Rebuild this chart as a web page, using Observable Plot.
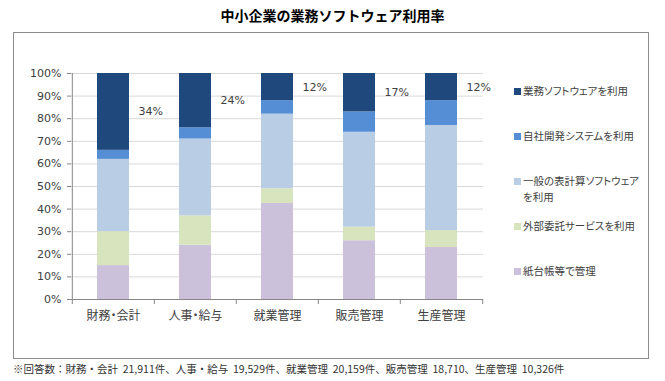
<!DOCTYPE html>
<html><head><meta charset="utf-8">
<script src="https://cdn.jsdelivr.net/npm/d3@7"></script>
<script src="https://cdn.jsdelivr.net/npm/@observablehq/plot@0.6"></script>
<style>
html,body{margin:0;padding:0;background:#fff;}
#wrap{position:relative;width:665px;height:381px;overflow:hidden;font-family:"Noto Sans CJK JP",sans-serif;}
#title{position:absolute;left:0;width:665px;top:5px;text-align:center;font-weight:bold;font-size:14px;line-height:20px;color:#000;}
#frame{position:absolute;left:13px;top:32px;width:634px;height:325px;border:1px solid #8c8c8c;}
#chart{position:absolute;left:0;top:0;}
#chart text{font-feature-settings:"palt";}
#legend{position:absolute;left:514px;top:0;}
.item{position:absolute;left:0;width:140px;font-size:10.5px;line-height:16px;color:#404040;font-feature-settings:"palt";}
.sw{position:absolute;left:0;top:4.5px;width:7px;height:7px;}
.lbl{position:absolute;left:9px;width:120px;}
#note{position:absolute;left:13px;top:361px;font-size:10.5px;line-height:16px;color:#333;white-space:pre;}
</style></head>
<body>
<div id="wrap">
  <div id="frame"></div>
  <div id="title"></div>
  <div id="chart"></div>
  <div id="legend"></div>
  <div id="note"></div>
</div>
<script>
const titleText = "中小企業の業務ソフトウェア利用率";
const noteText = "※回答数：財務・会計  21,911件、人事・給与  19,529件、就業管理  20,159件、販売管理  18,710、生産管理  10,326件";
const categories = ["財務・会計", "人事・給与", "就業管理", "販売管理", "生産管理"];
// series, bottom to top of each stack
const series = ["紙台帳等で管理", "外部委託サービスを利用", "一般の表計算ソフトウェアを利用", "自社開発システムを利用", "業務ソフトウェアを利用"];
const paper = [15, 24, 42.5, 26, 23];
const outsourced = [15, 13, 6.5, 6, 7.5];
const spreadsheet = [32, 34, 33, 42, 46.5];
const inhouse = [4, 5, 6, 9, 11];
const packaged = [34, 24, 12, 17, 12];
const colors = ["#CCC1DA", "#D7E4BD", "#B9CDE5", "#558ED5", "#1F497D"];
const yTicks = [0, 0.1, 0.2, 0.3, 0.4, 0.5, 0.6, 0.7, 0.8, 0.9, 1];

const values = [paper, outsourced, spreadsheet, inhouse, packaged];
const topSeries = series[series.length - 1];
const rows = [];
series.forEach((s, j) => categories.forEach((c, i) => rows.push({category: c, series: s, value: values[j][i] / 100})));

const W = 665, H = 381, mL = 71, mR = 182, mT = 73, mB = 82;
const step = (W - mL - mR) / categories.length;
const axisColor = "#868686";

const chart = Plot.plot({
  width: W, height: H,
  marginLeft: mL, marginRight: mR, marginTop: mT, marginBottom: mB,
  style: {fontFamily: "'DejaVu Sans', 'Noto Sans CJK JP', sans-serif", fontSize: "11px", color: "#404040", background: "transparent"},
  x: {domain: categories, paddingInner: 0.61, paddingOuter: 0.305, label: null},
  y: {domain: [0, 1], label: null},
  color: {domain: series, range: colors},
  marks: [
    Plot.ruleY(yTicks.slice(1), {stroke: "#d9d9d9"}),
    Plot.barY(rows, {x: "category", y: "value", fill: "series"}),
    Plot.ruleY([0], {stroke: axisColor}),
    Plot.ruleX([categories[0]], {x: d => d, dx: -step / 2, y1: 0, y2: 1, stroke: axisColor}),
    Plot.ruleX(categories, {x: d => d, dx: -step / 2, y1: 0, y2: 0, insetBottom: -5, stroke: axisColor}),
    Plot.ruleX([categories[categories.length - 1]], {x: d => d, dx: step / 2, y1: 0, y2: 0, insetBottom: -5, stroke: axisColor}),
    Plot.axisY({ticks: yTicks, tickFormat: d3.format(".0%"), tickSize: 4, tickPadding: 6, stroke: axisColor, fontSize: 11}),
    Plot.axisX({tickSize: 0, tickPadding: 12, fontSize: 12, fontFamily: "'Noto Sans CJK JP', sans-serif"}),
    Plot.text(rows, Plot.stackY({
      x: "category", y: "value", z: "series",
      text: d => d.series === topSeries ? Math.round(d.value * 100) + "%" : "",
      textAnchor: "start", dx: 25, fontSize: 11, fill: "#404040"
    }))
  ]
});
document.getElementById("chart").appendChild(chart);
document.getElementById("title").textContent = titleText;
document.getElementById("note").textContent = noteText;

const legend = document.getElementById("legend");
series.slice().reverse().forEach((s, k) => {
  const item = document.createElement("div");
  item.className = "item";
  item.style.top = (83 + k * 45) + "px";
  const sw = document.createElement("div");
  sw.className = "sw";
  sw.style.background = colors[series.indexOf(s)];
  const lbl = document.createElement("div");
  lbl.className = "lbl";
  lbl.textContent = s;
  item.appendChild(sw); item.appendChild(lbl);
  legend.appendChild(item);
});
</script>
</body></html>
